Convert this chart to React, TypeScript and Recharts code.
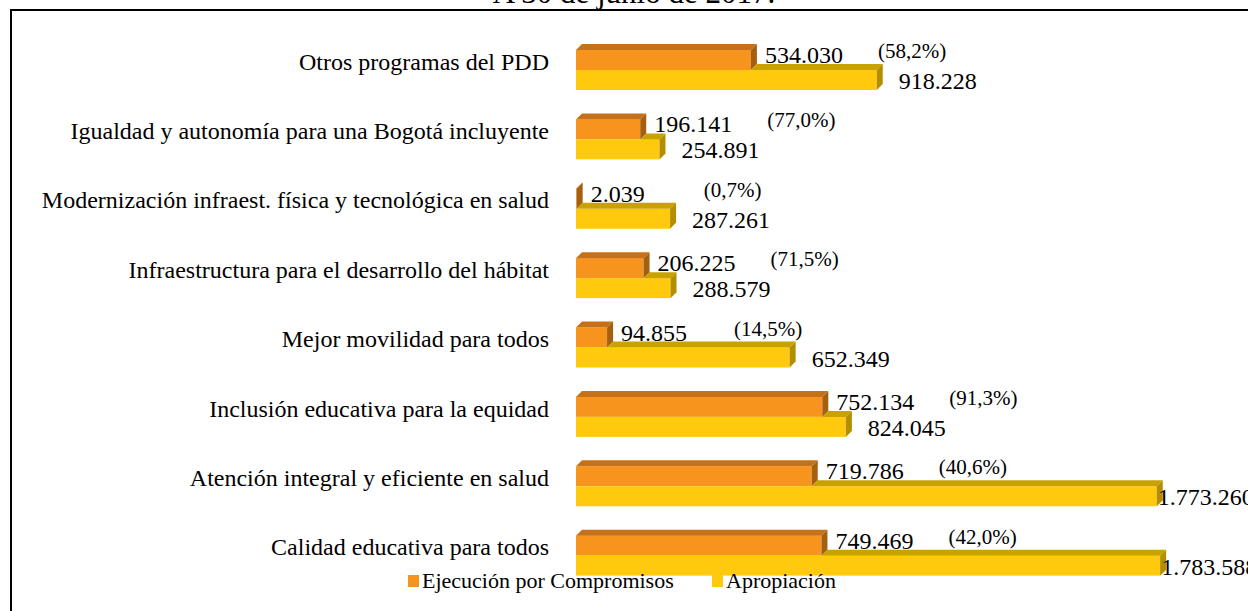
import { BarChart, Bar, XAxis, YAxis, LabelList } from "recharts";

const categories = [
  "Otros programas del PDD",
  "Igualdad y autonomía para una Bogotá incluyente",
  "Modernización infraest. física y tecnológica en salud",
  "Infraestructura para el desarrollo del hábitat",
  "Mejor movilidad para todos",
  "Inclusión educativa para la equidad",
  "Atención integral y eficiente en salud",
  "Calidad educativa para todos",
];
const ejecucion = [534030, 196141, 2039, 206225, 94855, 752134, 719786, 749469];
const apropiacion = [918228, 254891, 287261, 288579, 652349, 824045, 1773260, 1783588];
const porcentajes = ["(58,2%)", "(77,0%)", "(0,7%)", "(71,5%)", "(14,5%)", "(91,3%)", "(40,6%)", "(42,0%)"];

const data = categories.map((name, i) => ({
  name,
  ejecucion: ejecucion[i],
  apropiacion: apropiacion[i],
}));

const FONT = '"Liberation Serif", "Times New Roman", serif';
const D = 6;
const CHART_W = 1248;

const fmt = (v: number) => v.toLocaleString("de-DE");

function OrangeBar(props: any) {
  const { x, y, width, height } = props;
  const w = Math.max(width, 0.6);
  return (
    <g>
      <rect x={x} y={y} width={w} height={height} fill="#F7941D" />
      <polygon
        points={`${x},${y} ${x + D},${y - D} ${x + w + D},${y - D} ${x + w},${y}`}
        fill="#C6711A"
      />
      <polygon
        points={`${x + w},${y} ${x + w + D},${y - D} ${x + w + D},${y + height - D} ${x + w},${y + height}`}
        fill="#A4600F"
      />
    </g>
  );
}

function YellowBar(props: any) {
  const { x, y, width, height, payload } = props;
  // top face only shows past the end of the orange bar in front of it
  const oe = x + (width * payload.ejecucion) / payload.apropiacion;
  return (
    <g>
      <rect x={x} y={y} width={width} height={height} fill="#FFC90D" />
      <polygon
        points={`${oe},${y} ${oe + D},${y - D} ${x + width + D},${y - D} ${x + width},${y}`}
        fill="#C9A200"
      />
      <polygon
        points={`${x + width},${y} ${x + width + D},${y - D} ${x + width + D},${y + height - D} ${x + width},${y + height}`}
        fill="#B38F00"
      />
    </g>
  );
}

function CategoryTick(props: any) {
  const { x, y, payload } = props;
  return (
    <text x={x - 19} y={y - 8} textAnchor="end" dominantBaseline="central" fontFamily={FONT} fontSize={24} fill="#000">
      {payload.value}
    </text>
  );
}

function OrangeLabel(props: any) {
  const { x, y, width, height, value, index } = props;
  const cy = y + height / 2;
  return (
    <g>
      <text x={x + width + 14} y={cy - 5} dominantBaseline="central" fontFamily={FONT} fontSize={24} fill="#000">
        {fmt(value)}
      </text>
      <text x={x + width + 127} y={cy - 9} dominantBaseline="central" fontFamily={FONT} fontSize={21} fill="#000">
        {porcentajes[index]}
      </text>
    </g>
  );
}

function YellowLabel(props: any) {
  const { x, y, width, height, value } = props;
  const end = x + width;
  // long labels get pushed back onto the bar end, as in the original
  const lx = end + 22 + 100 > CHART_W ? end + 1 : end + 22;
  return (
    <text x={lx} y={y + height / 2 + 1} dominantBaseline="central" fontFamily={FONT} fontSize={24} fill="#000">
      {fmt(value)}
    </text>
  );
}

const legendItems = [
  { label: "Ejecución por Compromisos", color: "#F7941D", left: 408 },
  { label: "Apropiación", color: "#FFC90D", left: 712 },
];

export default function App() {
  return (
    <div style={{ position: "absolute", left: 0, top: 0, width: 1248, height: 611, overflow: "hidden", background: "#fff" }}>
      <div
        style={{
          position: "absolute",
          left: 0,
          width: 1268,
          top: -25,
          textAlign: "center",
          fontFamily: FONT,
          fontSize: 31,
          color: "#000",
          whiteSpace: "nowrap",
        }}
      >
        A 30 de junio de 2017.
      </div>
      <div
        style={{
          position: "absolute",
          left: 10,
          top: 9,
          width: 1300,
          height: 700,
          border: "2px solid #000",
          boxSizing: "border-box",
        }}
      />
      <div style={{ position: "absolute", left: 0, top: 0 }}>
        <BarChart
          width={CHART_W}
          height={611}
          data={data}
          layout="vertical"
          margin={{ top: 35, right: 17, bottom: 21, left: 0 }}
          barSize={20}
          barGap={0}
        >
          <XAxis type="number" domain={[0, 2000000]} hide />
          <YAxis type="category" dataKey="name" width={576} axisLine={false} tickLine={false} tick={<CategoryTick />} />
          <Bar dataKey="ejecucion" name="Ejecución por Compromisos" fill="#F7941D" shape={<OrangeBar />} isAnimationActive={false}>
            <LabelList dataKey="ejecucion" content={<OrangeLabel />} />
          </Bar>
          <Bar dataKey="apropiacion" name="Apropiación" fill="#FFC90D" shape={<YellowBar />} isAnimationActive={false}>
            <LabelList dataKey="apropiacion" content={<YellowLabel />} />
          </Bar>
        </BarChart>
      </div>
      {legendItems.map((it) => (
        <div
          key={it.label}
          style={{
            position: "absolute",
            left: it.left,
            top: 568,
            height: 26,
            display: "flex",
            alignItems: "center",
            fontFamily: FONT,
            fontSize: 22,
            color: "#000",
            whiteSpace: "nowrap",
          }}
        >
          <span style={{ display: "inline-block", width: 11, height: 12, background: it.color, marginRight: 3 }} />
          <span>{it.label}</span>
        </div>
      ))}
    </div>
  );
}
